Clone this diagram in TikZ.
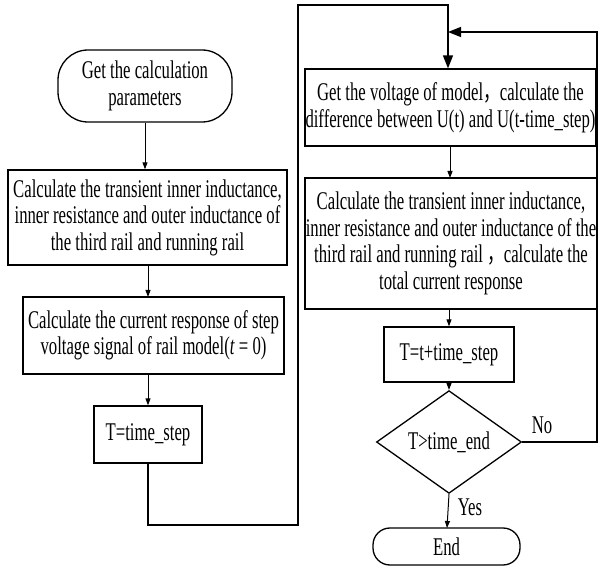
\documentclass[tikz,border=0pt]{standalone}
\usepackage{fontspec}
\setmainfont[FakeStretch=0.655]{Liberation Serif}
\newfontfamily\cjk[FakeStretch=0.655]{Noto Sans CJK SC}
\usetikzlibrary{arrows.meta,shapes.geometric}
\newcommand{\fw}{{\cjk ，}}
\begin{document}
\begin{tikzpicture}[x=1pt,y=-1pt,
  every node/.style={font=\fontsize{25.5}{26.5}\selectfont, align=center, inner sep=0pt},
  boxst/.style={draw, rectangle, line width=1.3pt},
  termst/.style={draw, rectangle, line width=1.3pt},
  decst/.style={draw, diamond, line width=1.3pt},
  conn/.style={line width=1pt, -{Triangle[length=7pt,width=5pt]}},
  bigconn/.style={line width=1.4pt, -{Triangle[length=13pt,width=10pt]}}]
\useasboundingbox (0,0) rectangle (598,567);

% left column
\node[termst, rounded corners=30pt, minimum width=174pt, minimum height=72pt] (s1) at (145,86) {Get the calculation\\parameters};
\node[boxst, minimum width=279pt, minimum height=95pt] (s2) at (147.5,217.5) {Calculate the transient inner inductance,\\inner resistance and outer inductance of\\the third rail and running rail};
\node[boxst, minimum width=261pt, minimum height=77pt] (s3) at (153.5,335.5) {Calculate the current response of step\\voltage signal of rail model(\textit{t} = 0)};
\node[boxst, minimum width=108pt, minimum height=57pt] (s4) at (148,434.5) {T=time\_step};

% right column
\node[boxst, minimum width=291pt, minimum height=77pt] (s5) at (450.5,107.5) {Get the voltage of model\fw calculate the\\difference between U(t) and U(t-time\_step)};
\node[boxst, minimum width=292pt, minimum height=131pt] (s6) at (451,243.5) {Calculate the transient inner inductance,\\inner resistance and outer inductance of the\\third rail and running rail \fw calculate the\\total current response};
\node[boxst, minimum width=130pt, minimum height=55pt] (s7) at (449,354.5) {T=t+time\_step};
\node[decst, minimum width=145pt, minimum height=70pt] (d) at (449,442) {T>time\_end};
\node[termst, rounded corners=17pt, minimum width=147pt, minimum height=37pt] (e) at (446.5,546.5) {End};

% labels
\node (no) at (542,425) {No};
\node (yes) at (470,507) {Yes};

% coordinates
\coordinate (c1) at (148,525);
\coordinate (c2) at (298,525);
\coordinate (c3) at (298,5);
\coordinate (c4) at (448,5);
\coordinate (c5) at (597,442);
\coordinate (c6) at (597,32);
\coordinate (c7) at (448,32);

% connectors left
\draw[conn] (s1.south) -- (s1.south |- s2.north);
\draw[conn] (148,265) -- (148,297);
\draw[conn] (148,374) -- (s4.north);
\draw[bigconn] (s4.south) -- (c1) -- (c2) -- (c3) -- (c4) -- (c4 |- s5.north);

% connectors right
\draw[conn] (450,146) -- (450,178);
\draw[conn] (449,309) -- (s7.north);
\draw[conn] (s7.south) -- (d.north);
\draw[conn] (d.south) -- (447,528);
\draw[bigconn] (d.east) -- (c5) -- (c6) -- (c7);
\end{tikzpicture}
\end{document}
